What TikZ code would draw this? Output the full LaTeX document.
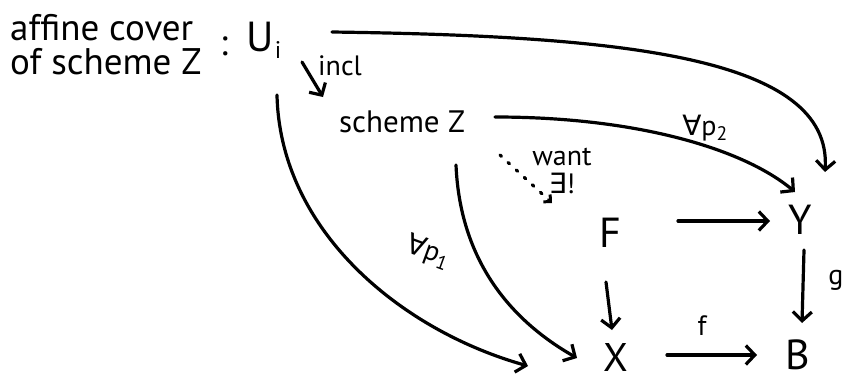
\documentclass[tikz,border=0pt]{standalone}
\usepackage{fontspec}
\setmainfont{PT Sans}
\newfontfamily\symf{DejaVu Sans}
\usetikzlibrary{arrows.meta}
\begin{document}
\begin{tikzpicture}[x=1pt,y=-1pt,
  arr/.style={line width=3.2pt, line cap=round, -{Straight Barb[length=9pt,width=19pt,line width=3.2pt]}},
  dotarr/.style={line width=3.2pt, line cap=round, dash pattern=on 2pt off 9pt, -{Straight Barb[length=5pt,width=10pt,line width=3pt]}},
  big/.style={font=\fontsize{42}{46}\selectfont, inner sep=0pt},
  mid/.style={font=\fontsize{31}{34}\selectfont, inner sep=0pt},
  txt/.style={font=\fontsize{37}{40}\selectfont, inner sep=0pt},
  lbl/.style={font=\fontsize{28}{30}\selectfont, inner sep=0pt}]
\useasboundingbox (0,0) rectangle (846,381);
% nodes
\node[txt, anchor=base west] (t1) at (10,40) {affine cover};
\node[txt, anchor=base west] (t2) at (10,74) {of scheme Z};
\node[txt] (colon) at (224,46) {:};
\node[big] (U) at (264,40) {U\kern1pt\raisebox{-7pt}{\fontsize{24}{26}\selectfont i}};
\node[mid] (Z) at (402,122) {scheme Z};
\node[big] (Y) at (800,220) {Y};
\node[big] (F) at (610,233) {F};
\node[big, font=\fontsize{40}{44}\selectfont] (X) at (616,357) {X};
\node[big] (B) at (798,355) {B};
\node[lbl] (incl) at (340,66) {incl};
\node[lbl] (p2) at (705,128) {{\symf ∀}p\textsubscript{2}};
\node[lbl, rotate=-20] (p1) at (428,252) {{\symf ∀}p\textsubscript{1}};
\node[lbl] (want) at (562,157) {want};
\node[lbl] (ex) at (562,183) {{\symf ∃}!};
\node[lbl] (g) at (836,280) {g};
\node[lbl] (f) at (702,326) {f};
% connectors
\draw[arr] ([shift={(68,-8)}]U.center) .. controls (620,36) and (832,56) .. ([shift={(25,-48)}]Y.center);
\draw[arr] ([shift={(38,22)}]U.center) -- ([shift={(-79,-25)}]Z.center);
\draw[arr] ([shift={(13,55)}]U.center) .. controls (280,230) and (400,330) .. ([shift={(-88,9)}]X.center);
\draw[arr] ([shift={(93,-5)}]Z.center) .. controls (640,117) and (745,150) .. ([shift={(-5,-28)}]Y.center);
\draw[arr] ([shift={(54,43)}]Z.center) .. controls (460,260) and (510,320) .. ([shift={(-39,1)}]X.center);
\draw[dotarr] ([shift={(98,33)}]Z.center) -- ([shift={(-58,-30)}]F.center);
\draw[arr] ([shift={(-4,49)}]F.center) -- ([shift={(-4,-27)}]X.center);
\draw[arr] ([shift={(68,-12)}]F.center) -- ([shift={(-30,1)}]Y.center);
\draw[arr] ([shift={(51,-2)}]X.center) -- ([shift={(-41,0)}]B.center);
\draw[arr] ([shift={(4,30)}]Y.center) -- ([shift={(4,-32)}]B.center);
\end{tikzpicture}
\end{document}
